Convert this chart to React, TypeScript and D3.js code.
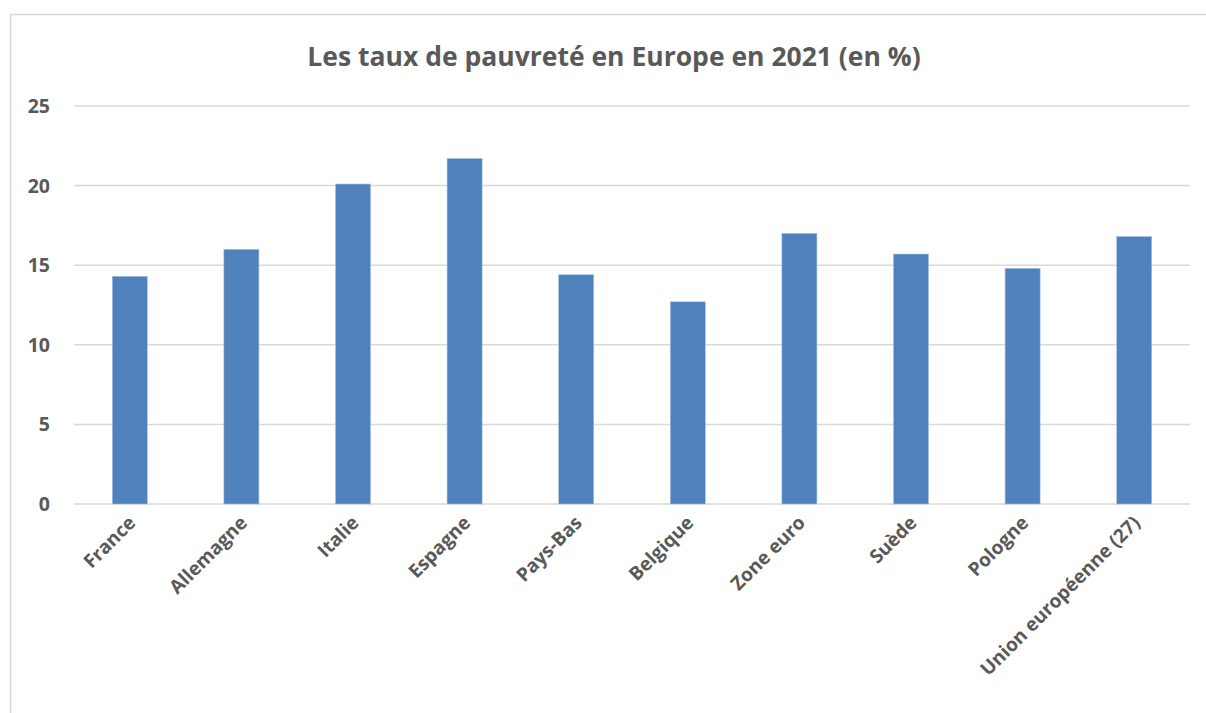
import React from "react";
import * as d3 from "d3";

const categories = ["France", "Allemagne", "Italie", "Espagne", "Pays-Bas", "Belgique", "Zone euro", "Suède", "Pologne", "Union européenne (27)"];
const values = [14.3, 16.0, 20.1, 21.7, 14.4, 12.7, 17.0, 15.7, 14.8, 16.8];
const yTicks = [0, 5, 10, 15, 20, 25];
const title = "Les taux de pauvreté en Europe en 2021 (en %)";

const W = 1206;
const H = 713;
const plot = { left: 74, right: 1190, top: 106, bottom: 504 };
const font = "'Open Sans', 'DejaVu Sans', sans-serif";
const textColor = "#595959";

export default function App() {
  const x = d3.scaleBand<string>().domain(categories).range([plot.left, plot.right]).paddingInner(0.686).paddingOuter(0.343);
  const y = d3.scaleLinear().domain([0, 25]).range([plot.bottom, plot.top]);

  return (
    <svg width={W} height={H} style={{ position: "absolute", left: 0, top: 0, background: "#fff" }}>
      <rect x={10.5} y={14.5} width={1230} height={730} fill="#fff" stroke="#d9d9d9" strokeWidth={1.5} />
      <text x={614} y={66} textAnchor="middle" fontFamily={font} fontWeight="bold" fontSize={26.5} fill={textColor}>
        {title}
      </text>
      {yTicks.map((t) => (
        <g key={t}>
          <line x1={plot.left} x2={plot.right} y1={y(t)} y2={y(t)} stroke="#d9d9d9" strokeWidth={1.5} />
          <text x={50} y={y(t) + 7} textAnchor="end" fontFamily={font} fontWeight="bold" fontSize={19.5} fill={textColor}>
            {t}
          </text>
        </g>
      ))}
      {categories.map((c, i) => (
        <rect key={c} x={x(c)} y={y(values[i])} width={x.bandwidth()} height={y(0) - y(values[i])} fill="#4f81bd" stroke="#a9c0df" strokeWidth={0.6} />
      ))}
      {categories.map((c) => {
        const cx = (x(c) as number) + x.bandwidth() / 2 + 7;
        const cy = 524;
        return (
          <text key={c} x={cx} y={cy} transform={`rotate(-45 ${cx} ${cy})`} textAnchor="end" fontFamily={font} fontWeight="bold" fontSize={19} fill={textColor}>
            {c}
          </text>
        );
      })}
    </svg>
  );
}
